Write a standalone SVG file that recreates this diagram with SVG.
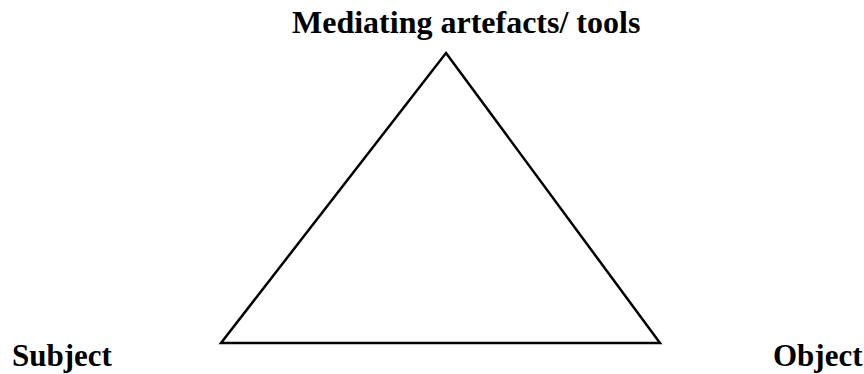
<svg xmlns="http://www.w3.org/2000/svg" width="864" height="374" viewBox="0 0 864 374">
<style>
.lbl{font-family:"Liberation Serif","Times New Roman",serif;font-weight:bold;font-size:31px;fill:#000}
.edge{fill:none;stroke:#000;stroke-width:2.5;stroke-linejoin:miter}
</style>
<rect width="864" height="374" fill="#fff"/>
<g id="connectors">
<polygon class="edge" points="446,53 660,343 221,343"/>
</g>
<g id="tools"><text class="lbl" x="292" y="33" style="font-size:32px">Mediating artefacts/ tools</text></g>
<g id="subject"><text class="lbl" x="12" y="366">Subject</text></g>
<g id="object"><text class="lbl" x="773" y="366">Object</text></g>
</svg>
